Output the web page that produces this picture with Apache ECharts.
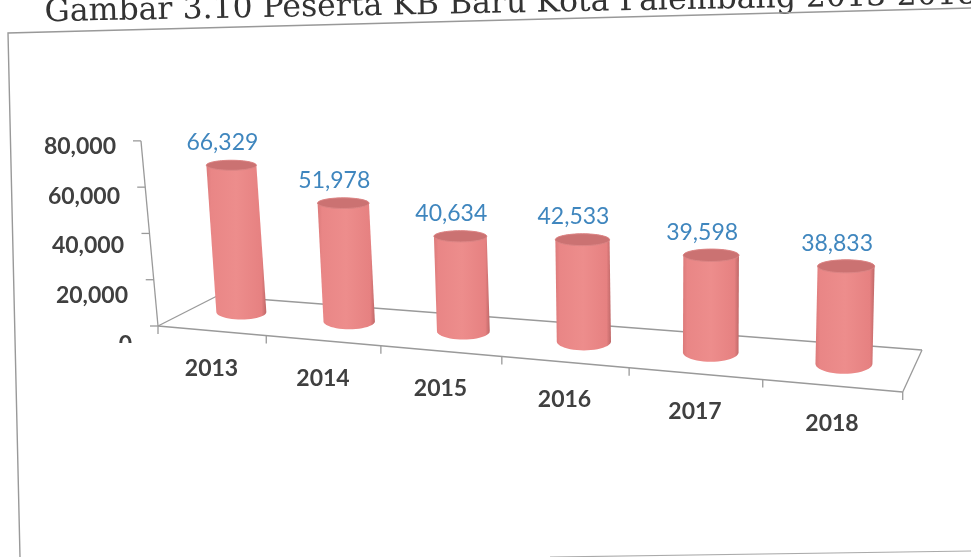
<!DOCTYPE html>
<html>
<head>
<meta charset="utf-8">
<title>Peserta KB Baru</title>
<script src="https://cdn.jsdelivr.net/npm/echarts@6/dist/echarts.min.js"></script>
<style>
  html, body { margin: 0; padding: 0; background: #fff; }
  #chart { width: 971px; height: 557px; }
</style>
</head>
<body>
<div id="chart"></div>
<script>
const titleText = 'Gambar 3.10 Peserta KB Baru Kota Palembang 2013-2018'
const years = ['2013', '2014', '2015', '2016', '2017', '2018']
const peserta = [66329, 51978, 40634, 42533, 39598, 38833]
const yTicks = [0, 20000, 40000, 60000, 80000]

const chart = echarts.init(document.getElementById('chart'))
const fmt = v => v.toLocaleString('en-US')

// the picture is a tilted 3d excel chart, so band index u gets pushed through a perspective curve
const GRID_LEFT = 149
const BAND = 124
const floorX = u => 158 + 105.1 * u + 3.17 * u * u
const frontY = x => 326 + (x - 158) * 0.0886
const backY = x => 296 + (x - 217) * 0.0766
const bandOf = px => (px - GRID_LEFT) / BAND

const labelFont = { fontFamily: 'Lato', fontSize: 23, fontWeight: 'bold', color: '#404040' }

// label nudges to follow the tilted axes
const xLabelRich = {}
years.forEach((y, i) => {
  const shift = floorX(i + 0.5) - (GRID_LEFT + BAND * (i + 0.5))
  const drop = frontY(floorX(i + 0.5)) - frontY(floorX(0.5))
  xLabelRich['c' + i] = {
    ...labelFont,
    padding: [Math.round(drop), shift < 0 ? Math.round(-shift * 2) : 0, 0, shift > 0 ? Math.round(shift * 2) : 0]
  }
})
const yLabelRich = {}
yTicks.forEach((v, i) => {
  yLabelRich['v' + v] = { ...labelFont, padding: [0, i * 4, 0, 0] }
})

function renderFrame(params, api) {
  const base = api.coord([0, 0])[1]
  const line = (x1, y1, x2, y2, width) => ({
    type: 'line',
    shape: { x1, y1, x2, y2 },
    style: { stroke: '#9a9a9a', lineWidth: width || 1.3 }
  })
  const children = []
  const spine = v => {
    const h = (base - api.coord([0, v])[1]) * 0.935
    return [158 - h * 0.092, 326 - h]
  }
  const top = spine(yTicks[yTicks.length - 1])
  children.push(line(158, 326, top[0], top[1]))
  yTicks.forEach(v => {
    const p = spine(v)
    children.push(line(p[0] - 8, p[1], p[0], p[1]))
  })
  // floor
  const x0 = floorX(0)
  const x6 = floorX(years.length)
  children.push(line(x0, frontY(x0), x6, frontY(x6), 1.6))
  children.push(line(x0, frontY(x0), 217, backY(217)))
  children.push(line(217, backY(217), 922, backY(922)))
  children.push(line(922, backY(922), x6, frontY(x6)))
  for (let u = 0; u <= years.length; u++) {
    const x = floorX(u)
    children.push(line(x, frontY(x), x, frontY(x) + 8))
  }
  return { type: 'group', children }
}

function ellipsePoints(cx, cy, rx, ry, from, to) {
  const pts = []
  for (let a = 0; a <= 24; a++) {
    const t = from + (to - from) * a / 24
    pts.push([cx + rx * Math.cos(t), cy + ry * Math.sin(t)])
  }
  return pts
}

function renderCylinder(params, api) {
  const i = api.value(0)
  const v = api.value(1)
  const u = bandOf(api.coord([i, 0])[0])
  const baseX = floorX(u) + 30 - 3.6 * i
  const baseY = frontY(floorX(u)) - 18.7 - 0.65 * i
  const height = (api.coord([i, 0])[1] - api.coord([i, v])[1]) * (0.894 + 0.024 * i)
  const topX = baseX + height * (-0.068 + 0.018 * i)
  const topY = baseY - height
  const rx = (50 + 1.4 * i) / 2
  const ryTop = 5 + 0.3 * i
  const ryBase = 7.5 + 0.5 * i

  const body = ellipsePoints(baseX, baseY, rx, ryBase, 0, Math.PI)
    .concat(ellipsePoints(topX, topY, rx, ryTop, Math.PI, 2 * Math.PI))
  return {
    type: 'group',
    children: [
      {
        type: 'polygon',
        shape: { points: body },
        style: {
          fill: new echarts.graphic.LinearGradient(0, 0, 1, 0, [
            { offset: 0, color: '#dc7a7a' },
            { offset: 0.08, color: '#e98686' },
            { offset: 0.5, color: '#ed8d8c' },
            { offset: 0.92, color: '#e68181' },
            { offset: 1, color: '#bf6868' }
          ])
        }
      },
      {
        type: 'ellipse',
        shape: { cx: topX, cy: topY, rx: rx, ry: ryTop },
        style: { fill: '#cb7272', stroke: '#dc8585', lineWidth: 1 }
      },
      {
        type: 'text',
        style: {
          text: fmt(v),
          x: topX - 9,
          y: topY - 23,
          align: 'center',
          verticalAlign: 'middle',
          font: '23px Lato',
          fill: '#3f86be'
        }
      }
    ]
  }
}

chart.setOption({
  animation: false,
  backgroundColor: '#ffffff',
  grid: { left: GRID_LEFT, width: BAND * years.length, top: 147, height: 198 },
  xAxis: {
    type: 'category',
    data: years,
    axisLine: { show: false },
    axisTick: { show: false },
    axisLabel: {
      interval: 0,
      margin: 12,
      formatter: (v, i) => `{c${i}|${v}}`,
      rich: xLabelRich
    }
  },
  yAxis: {
    type: 'value',
    min: 0,
    max: 80000,
    interval: 20000,
    splitLine: { show: false },
    axisLine: { show: false },
    axisTick: { show: false },
    axisLabel: {
      margin: 17,
      formatter: v => `{v${v}|${fmt(v)}}`,
      rich: yLabelRich
    }
  },
  series: [
    { type: 'custom', name: 'axes', silent: true, z: 1, data: [[0, 0]], renderItem: renderFrame },
    {
      type: 'custom',
      name: 'Peserta KB Baru',
      z: 2,
      data: peserta.map((v, i) => [i, v]),
      encode: { x: 0, y: 1 },
      renderItem: renderCylinder
    }
  ],
  graphic: [
    {
      type: 'text',
      x: 45,
      y: 29,
      rotation: 0.019,
      style: {
        text: titleText,
        font: '31.5px "DejaVu Serif"',
        fill: '#333333',
        verticalAlign: 'bottom'
      }
    },
    {
      type: 'polyline',
      shape: { points: [[971, 8], [8, 33], [20, 557]] },
      style: { stroke: '#999999', lineWidth: 1.4, fill: 'none' }
    },
    {
      type: 'line',
      shape: { x1: 971, y1: 551, x2: 550, y2: 557 },
      style: { stroke: '#aaaaaa', lineWidth: 1.2 }
    },
    // the bottom half of the 0 label is cut off in the scan
    {
      type: 'rect',
      z: 100,
      shape: { x: 112, y: 343, width: 26, height: 12 },
      style: { fill: '#ffffff' }
    }
  ]
})
</script>
</body>
</html>
